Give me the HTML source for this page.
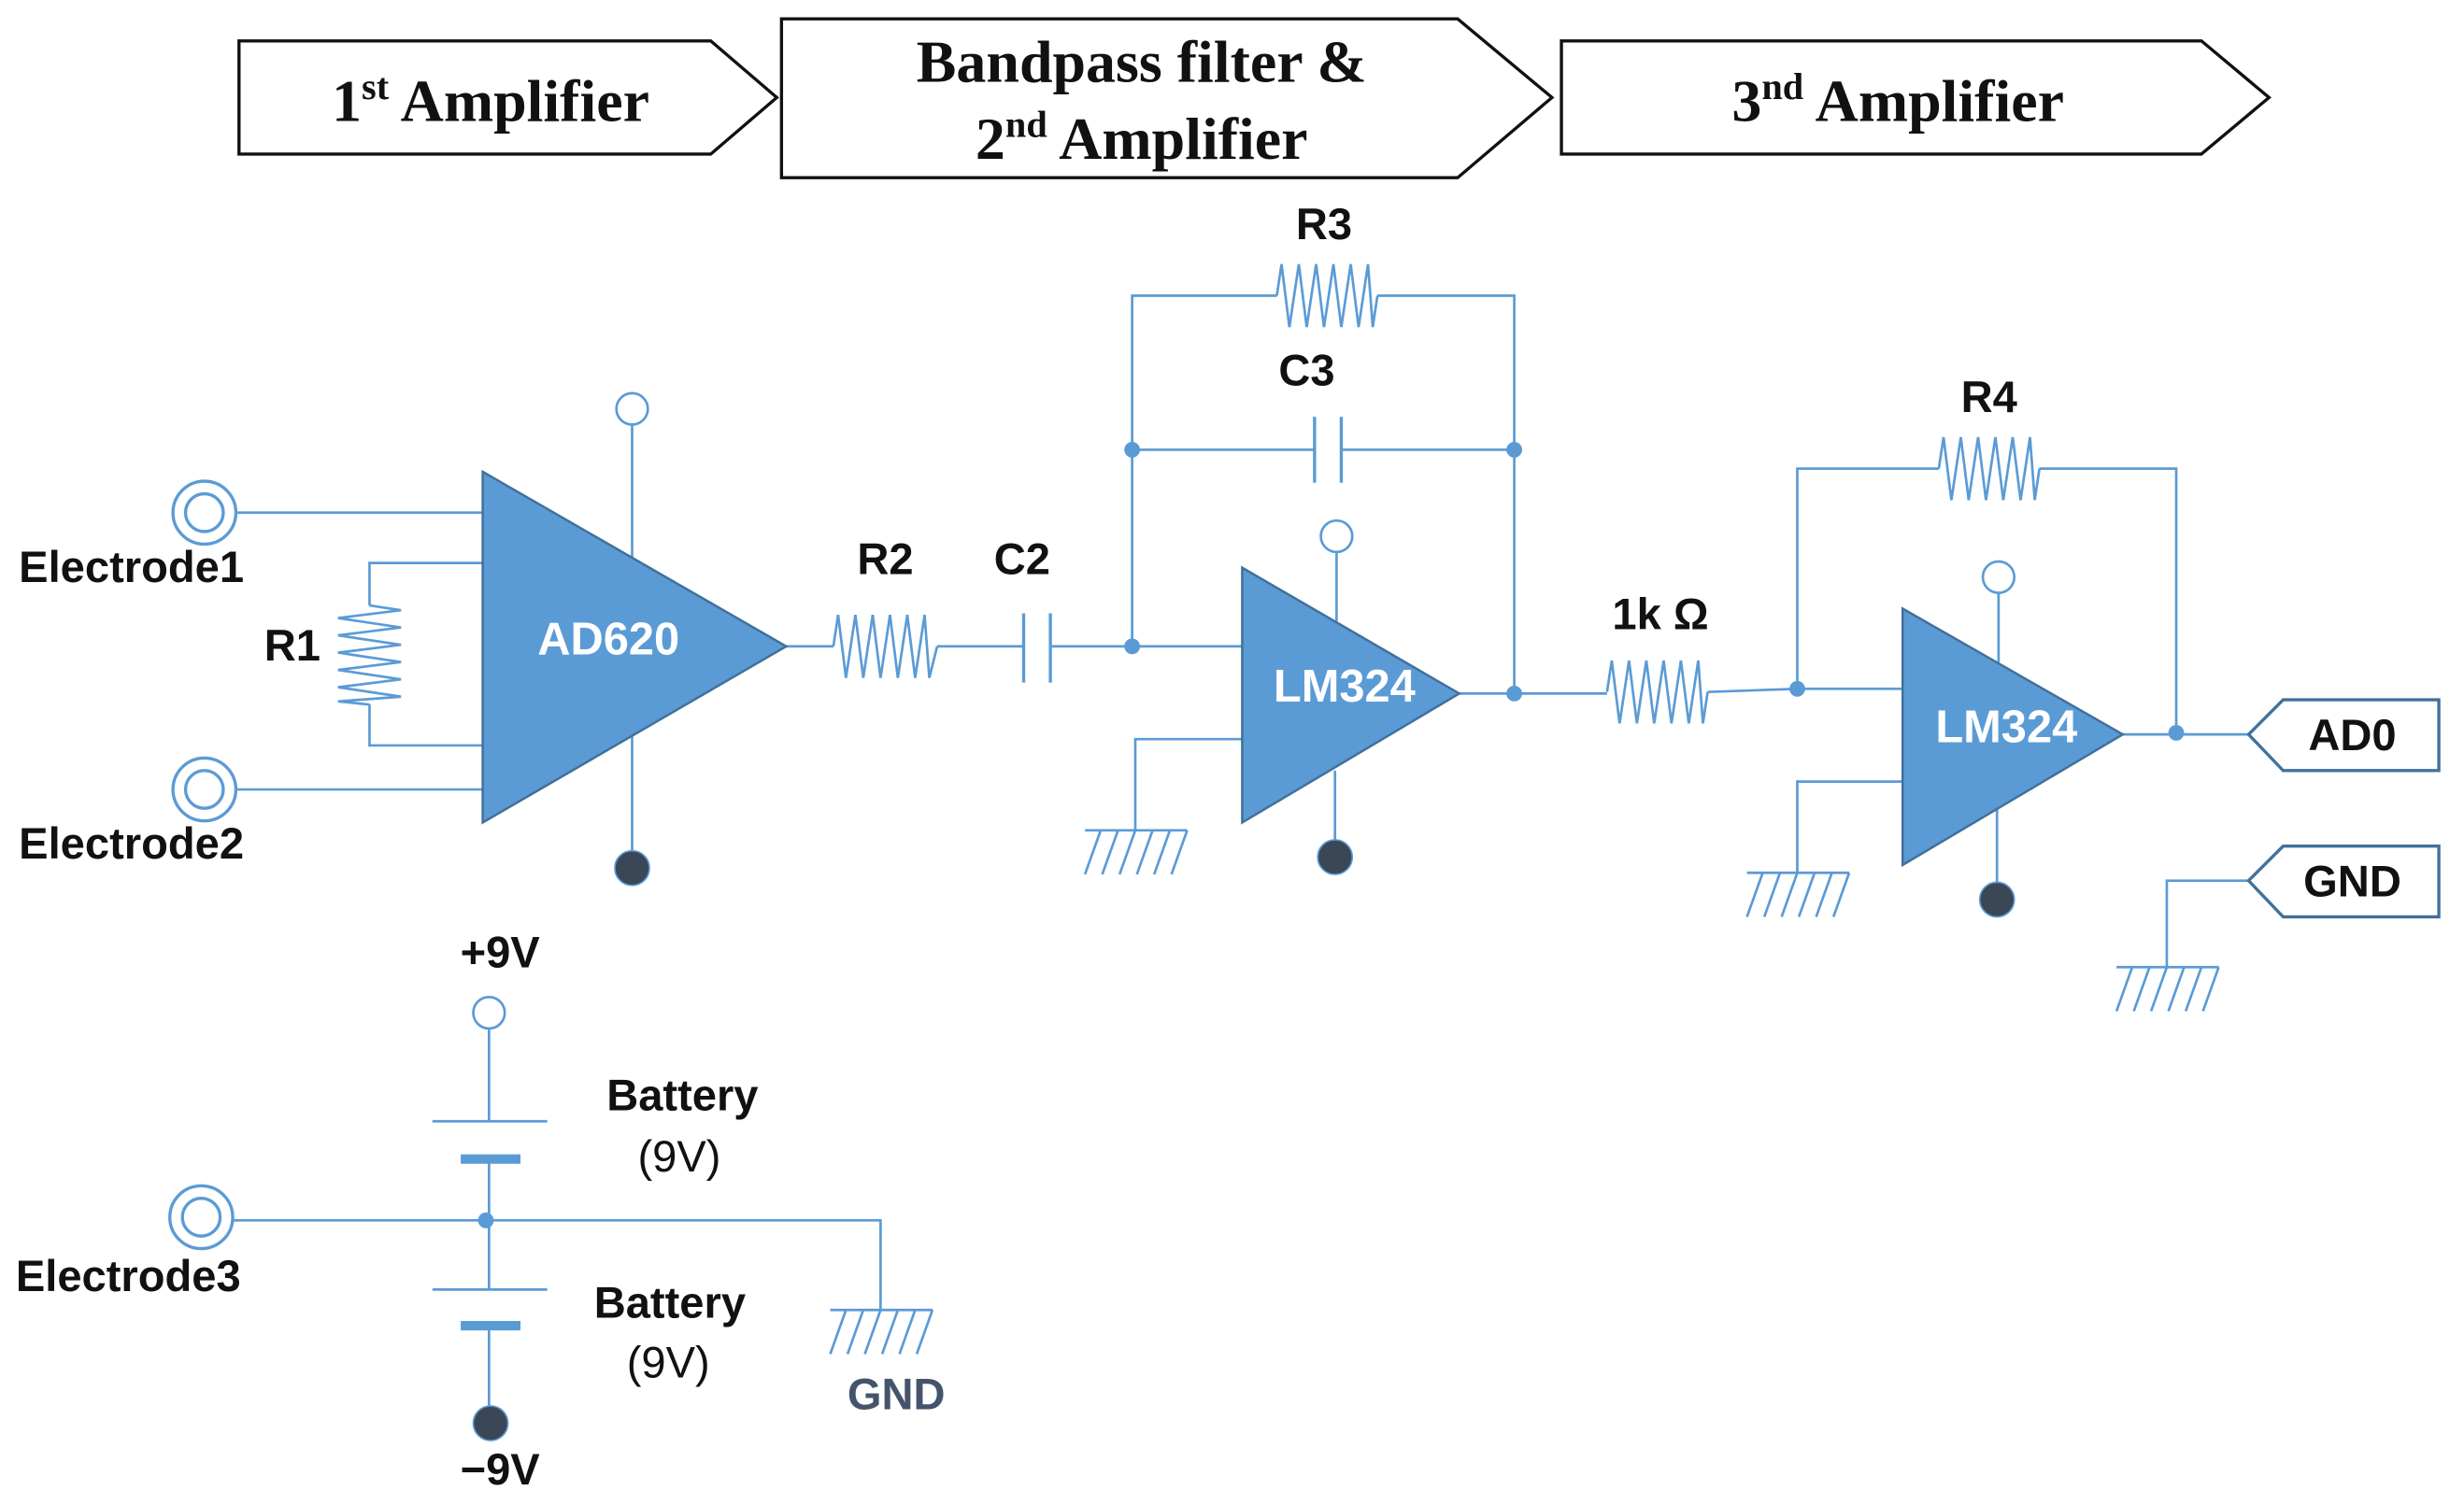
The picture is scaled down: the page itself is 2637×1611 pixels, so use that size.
<!DOCTYPE html>
<html><head><meta charset="utf-8"><style>
html,body{margin:0;padding:0;background:#fff;}
svg{display:block;}
.t{font-family:"Liberation Sans",sans-serif;font-weight:bold;font-size:28px;fill:#111;}
.s{font-family:"Liberation Serif",serif;font-weight:bold;font-size:38px;fill:#111;}
.w{font-family:"Liberation Sans",sans-serif;font-weight:bold;font-size:29px;fill:#fff;}
</style></head><body>
<svg width="2637" height="1611" viewBox="0 0 1567 957" preserveAspectRatio="none" xmlns="http://www.w3.org/2000/svg">
<rect width="1567" height="957" fill="#fff"/>
<g fill="#fff" stroke="#111" stroke-width="2">
<polygon points="152,26 452,26 494,62 452,98 152,98"/>
<polygon points="497,12 927,12 987,62 927,113 497,113"/>
<polygon points="993,26 1400,26 1443,62 1400,98 993,98"/>
</g>
<text class="s" x="312" y="77" text-anchor="middle">1<tspan font-size="24" dy="-14">st</tspan><tspan dy="14"> Amplifier</tspan></text>
<text class="s" x="726" y="52" text-anchor="middle">Bandpass filter &amp;</text>
<text class="s" x="726" y="101" text-anchor="middle">2<tspan font-size="24" dy="-14">nd</tspan><tspan dy="14"> Amplifier</tspan></text>
<text class="s" x="1207" y="77" text-anchor="middle">3<tspan font-size="24" dy="-14">nd</tspan><tspan dy="14"> Amplifier</tspan></text>

<g stroke="#5b9bd5" stroke-width="1.6" fill="none">
<line x1="150" y1="326" x2="307" y2="326"/>
<line x1="150" y1="502" x2="307" y2="502"/>
<polyline points="307,358 235,358 235,385"/>
<polyline points="307,474 235,474 235,448"/>
<g transform="translate(235,385) rotate(90)"><polyline points="0,0 3,-20 8,20 14,-20 19,20 25,-20 30,20 36,-20 41,20 47,-20 52,20 58,-20 61,20 63,0"/></g>
<line x1="402" y1="270" x2="402" y2="356"/>
<line x1="402" y1="466" x2="402" y2="552"/>
<line x1="500" y1="411" x2="530" y2="411"/>
<g transform="translate(530,411)"><polyline points="0,0 3,-20 8,20 14,-20 19,20 25,-20 30,20 36,-20 41,20 47,-20 52,20 58,-20 61,20 66,0"/></g>
<line x1="596" y1="411" x2="651" y2="411"/>
<line x1="651" y1="390" x2="651" y2="434" stroke-width="2"/>
<line x1="668" y1="390" x2="668" y2="434" stroke-width="2"/>
<line x1="668" y1="411" x2="790" y2="411"/>
<polyline points="720,411 720,188 812,188"/>
<g transform="translate(812,188)"><polyline points="0,0 3,-20 8,20 14,-20 19,20 25,-20 30,20 36,-20 41,20 47,-20 52,20 58,-20 61,20 64,0"/></g>
<polyline points="876,188 963,188 963,441"/>
<line x1="720" y1="286" x2="836" y2="286"/>
<line x1="836" y1="265" x2="836" y2="307" stroke-width="2"/>
<line x1="853" y1="265" x2="853" y2="307" stroke-width="2"/>
<line x1="853" y1="286" x2="963" y2="286"/>
<polyline points="790,470 722,470 722,528"/>
<line x1="850" y1="351" x2="850" y2="395"/>
<line x1="849" y1="490" x2="849" y2="545"/>
<line x1="928" y1="441" x2="1022" y2="441"/>
<g transform="translate(1022,440)"><polyline points="0,0 3,-20 8,20 14,-20 19,20 25,-20 30,20 36,-20 41,20 47,-20 52,20 58,-20 61,20 64,0"/></g>
<polyline points="1086,440 1143,438 1210,438"/>
<polyline points="1143,438 1143,298 1233,298"/>
<g transform="translate(1233,298)"><polyline points="0,0 3,-20 8,20 14,-20 19,20 25,-20 30,20 36,-20 41,20 47,-20 52,20 58,-20 61,20 64,0"/></g>
<polyline points="1297,298 1384,298 1384,466"/>
<polyline points="1210,497 1143,497 1143,555"/>
<line x1="1271" y1="377" x2="1271" y2="421"/>
<line x1="1270" y1="515" x2="1270" y2="572"/>
<line x1="1350" y1="467" x2="1430" y2="467"/>
<polyline points="1430,560 1378,560 1378,615"/>
<line x1="311" y1="654" x2="311" y2="713"/>
<line x1="275" y1="713" x2="348" y2="713"/>
<line x1="311" y1="737" x2="311" y2="820"/>
<line x1="275" y1="820" x2="348" y2="820"/>
<line x1="311" y1="843" x2="311" y2="905"/>
<polyline points="148,776 560,776 560,833"/>
<g><line x1="690" y1="528" x2="755" y2="528"/>
<path d="M700,528 l-10,28 M711,528 l-10,28 M722,528 l-10,28 M733,528 l-10,28 M744,528 l-10,28 M755,528 l-10,28"/></g>
<g transform="translate(421,27)"><line x1="690" y1="528" x2="755" y2="528"/>
<path d="M700,528 l-10,28 M711,528 l-10,28 M722,528 l-10,28 M733,528 l-10,28 M744,528 l-10,28 M755,528 l-10,28"/></g>
<g transform="translate(656,87)"><line x1="690" y1="528" x2="755" y2="528"/>
<path d="M700,528 l-10,28 M711,528 l-10,28 M722,528 l-10,28 M733,528 l-10,28 M744,528 l-10,28 M755,528 l-10,28"/></g>
<g transform="translate(-162,305)"><line x1="690" y1="528" x2="755" y2="528"/>
<path d="M700,528 l-10,28 M711,528 l-10,28 M722,528 l-10,28 M733,528 l-10,28 M744,528 l-10,28 M755,528 l-10,28"/></g>
<circle cx="402" cy="260" r="10" fill="#fff"/>
<circle cx="850" cy="341" r="10" fill="#fff"/>
<circle cx="1271" cy="367" r="10" fill="#fff"/>
<circle cx="311" cy="644" r="10" fill="#fff"/>
<circle cx="130" cy="326" r="20" stroke-width="2"/><circle cx="130" cy="326" r="12" stroke-width="2"/>
<circle cx="130" cy="502" r="20" stroke-width="2"/><circle cx="130" cy="502" r="12" stroke-width="2"/>
<circle cx="128" cy="774" r="20" stroke-width="2"/><circle cx="128" cy="774" r="12" stroke-width="2"/>
</g>
<line x1="293" y1="737" x2="331" y2="737" stroke="#5b9bd5" stroke-width="6"/>
<line x1="293" y1="843" x2="331" y2="843" stroke="#5b9bd5" stroke-width="6"/>
<g fill="#5b9bd5">
<circle cx="720" cy="411" r="5"/><circle cx="720" cy="286" r="5"/><circle cx="963" cy="286" r="5"/>
<circle cx="963" cy="441" r="5"/><circle cx="1143" cy="438" r="5"/><circle cx="1384" cy="466" r="5"/>
<circle cx="309" cy="776" r="5"/>
</g>
<g fill="#3b4656" stroke="#5b9bd5" stroke-width="1">
<circle cx="402" cy="552" r="11"/><circle cx="849" cy="545" r="11"/><circle cx="1270" cy="572" r="11"/><circle cx="312" cy="905" r="11"/>
</g>
<g fill="#5b9bd5" stroke="#41719c" stroke-width="1.5">
<polygon points="307,300 500,411 307,523"/>
<polygon points="790,361 928,441 790,523"/>
<polygon points="1210,387 1350,467 1210,550"/>
</g>
<text class="w" x="387" y="416" text-anchor="middle">AD620</text>
<text class="w" x="855" y="446" text-anchor="middle">LM324</text>
<text class="w" x="1276" y="472" text-anchor="middle">LM324</text>
<g fill="#fff" stroke="#41719c" stroke-width="2">
<polygon points="1430,467 1452,445 1551,445 1551,490 1452,490"/>
<polygon points="1430,560 1452,538 1551,538 1551,583 1452,583"/>
</g>
<text class="t" x="1496" y="477" text-anchor="middle">AD0</text>
<text class="t" x="1496" y="570" text-anchor="middle">GND</text>
<text class="t" x="12" y="370">Electrode1</text>
<text class="t" x="12" y="546">Electrode2</text>
<text class="t" x="10" y="821">Electrode3</text>
<text class="t" x="168" y="420">R1</text>
<text class="t" x="563" y="365" text-anchor="middle">R2</text>
<text class="t" x="650" y="365" text-anchor="middle">C2</text>
<text class="t" x="842" y="152" text-anchor="middle">R3</text>
<text class="t" x="831" y="245" text-anchor="middle">C3</text>
<text class="t" x="1056" y="400" text-anchor="middle">1k Ω</text>
<text class="t" x="1265" y="262" text-anchor="middle">R4</text>
<text class="t" x="318" y="615" text-anchor="middle">+9V</text>
<text class="t" x="318" y="944" text-anchor="middle">−9V</text>
<text class="t" x="434" y="706" text-anchor="middle">Battery</text>
<text class="t" x="432" y="745" text-anchor="middle" style="font-weight:normal">(9V)</text>
<text class="t" x="426" y="838" text-anchor="middle">Battery</text>
<text class="t" x="425" y="876" text-anchor="middle" style="font-weight:normal">(9V)</text>
<text class="t" x="570" y="896" text-anchor="middle" style="fill:#44546a">GND</text>
</svg>
</body></html>
